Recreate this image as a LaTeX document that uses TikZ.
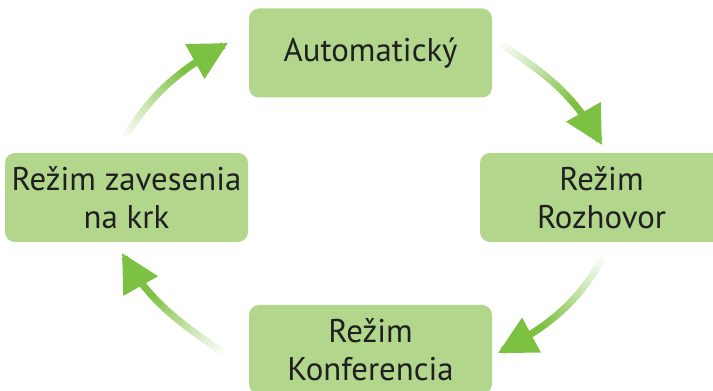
\documentclass[tikz,border=0pt]{standalone}
\usepackage{fontspec}
\setmainfont{PT Sans}
\usetikzlibrary{arrows.meta}
\definecolor{boxgreen}{RGB}{178,214,140}
\definecolor{arrowgreen}{RGB}{125,193,66}
\tikzset{
  mode/.style={fill=boxgreen, rounded corners=5pt, minimum width=121.5pt,
    minimum height=44.5pt, align=center, text=black!88,
    font=\fontsize{16.4}{19}\selectfont},
  cycarrow/.style={draw=arrowgreen, line width=3.5pt,
    -{Triangle[length=19pt,width=19pt]}},
}
% curved arrow, pale at the tail: tail, tip, out, in
\newcommand{\fadedarrow}[4]{%
  \path (#1) to[out=#3,in=#4] coordinate[pos=0.97] (fh) (#2);
  \draw[cycarrow] (fh) -- (#2);
  \foreach \i in {0,...,23}{
    \pgfmathsetmacro\pa{\i/30}
    \pgfmathsetmacro\pb{(\i+1.1)/30}
    \pgfmathtruncatemacro\mix{min(100,6+\i*5)}
    \path (#1) to[out=#3,in=#4] coordinate[pos=\pa] (fa) coordinate[pos=\pb] (fb) (#2);
    \draw[line width=3.5pt, arrowgreen!\mix!white] (fa) -- (fb);
  }}
\begin{document}
\begin{tikzpicture}[x=0.5pt,y=0.5pt]
  \useasboundingbox (0,0) rectangle (713,391);
  \node[mode] (auto) at (370.5,338) {Automatický};
  \node[mode] (rozhovor) at (601.5,193.5) {Režim\\Rozhovor};
  \node[mode] (konf) at (370.5,41.5) {Režim\\Konferencia};
  \node[mode] (krk) at (126.5,193.5) {Režim zavesenia\\na krk};
  % arrow ends
  \coordinate (a1) at (125,254);  \coordinate (b1) at (228,348);
  \coordinate (a2) at (502,346);  \coordinate (b2) at (602,246);
  \coordinate (a3) at (603,133);  \coordinate (b3) at (498,38);
  \coordinate (a4) at (222,39);   \coordinate (b4) at (122,138);
  \fadedarrow{a1}{b1}{58}{209}
  \fadedarrow{a2}{b2}{-33}{119}
  \fadedarrow{a3}{b3}{240}{28}
  \fadedarrow{a4}{b4}{145}{299}
\end{tikzpicture}
\end{document}
